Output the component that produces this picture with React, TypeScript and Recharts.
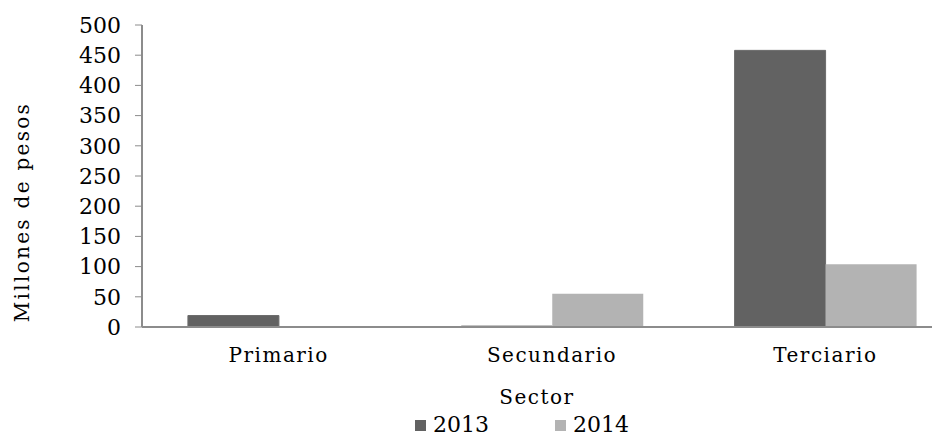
import { BarChart, Bar, XAxis, YAxis, Legend } from "recharts";

const sectors = ["Primario", "Secundario", "Terciario"];
const v2013 = [19, 1.5, 458];
const v2014 = [0, 55, 104];
const yTicks = [0, 50, 100, 150, 200, 250, 300, 350, 400, 450, 500];

const data = sectors.map((s, i) => ({ sector: s, y2013: v2013[i], y2014: v2014[i] }));

const FONT = "'DejaVu Serif', serif";
const AXIS = "#8c8c8c";

// y label sits a bit below the plot's middle, like the original
function YTitle(props: any) {
  const vb = props.viewBox || {};
  const x = vb.x + 22;
  const y = vb.y + vb.height / 2 + 36;
  return (
    <text
      x={x}
      y={y}
      transform={`rotate(-90, ${x}, ${y})`}
      textAnchor="middle"
      dominantBaseline="central"
      fill="#000"
      fontSize={20}
      fontFamily={FONT}
      letterSpacing={2.3}
    >
      Millones de pesos
    </text>
  );
}

function LegendBox(props: any) {
  const items = props.payload || [];
  return (
    <div
      style={{
        display: "flex",
        justifyContent: "center",
        paddingLeft: 112,
        paddingTop: 6,
        fontFamily: FONT,
        fontSize: 22,
      }}
    >
      {items.map((it: any, i: number) => (
        <div key={i} style={{ display: "flex", alignItems: "center", marginRight: i === 0 ? 66 : 0 }}>
          <span style={{ display: "inline-block", width: 11, height: 11, background: it.color, marginRight: 7 }} />
          <span style={{ color: "#000", lineHeight: "24px" }}>{it.value}</span>
        </div>
      ))}
    </div>
  );
}

export default function App() {
  return (
    <div style={{ position: "absolute", left: 0, top: 0, width: 938, height: 436, background: "#fff" }}>
      <BarChart
        width={938}
        height={436}
        data={data}
        margin={{ top: 25, right: 6, bottom: 0, left: 0 }}
        barCategoryGap="16.8%"
        barGap={0}
      >
        <XAxis
          dataKey="sector"
          height={80}
          padding={{ left: 0, right: -30 }}
          tickLine={false}
          axisLine={{ stroke: AXIS, strokeWidth: 2 }}
          tick={{ fill: "#000", fontSize: 20, fontFamily: FONT, letterSpacing: 1.5 }}
          tickMargin={15}
          label={{
            value: "Sector",
            position: "insideBottom",
            offset: 3,
            fill: "#000",
            fontSize: 20,
            fontFamily: FONT,
            letterSpacing: 1.5,
          }}
        />
        <YAxis
          width={142}
          domain={[0, 500]}
          ticks={yTicks}
          interval={0}
          tickSize={7}
          tickMargin={14}
          tickLine={{ stroke: AXIS }}
          axisLine={{ stroke: AXIS, strokeWidth: 2 }}
          tick={{ fill: "#000", fontSize: 22, fontFamily: FONT }}
          label={<YTitle />}
        />
        <Legend verticalAlign="bottom" height={29} content={<LegendBox />} />
        <Bar dataKey="y2013" name="2013" fill="#626262" stroke="#6c6c6c" isAnimationActive={false} />
        <Bar dataKey="y2014" name="2014" fill="#b3b3b3" isAnimationActive={false} />
      </BarChart>
    </div>
  );
}
